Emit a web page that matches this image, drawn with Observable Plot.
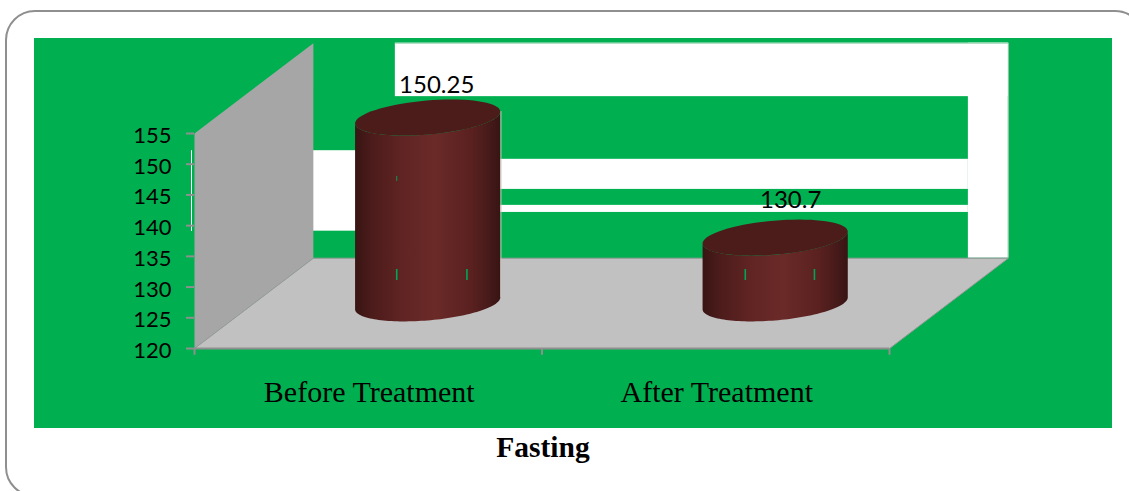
<!DOCTYPE html>
<html>
<head>
<meta charset="utf-8">
<script src="https://cdn.jsdelivr.net/npm/d3@7"></script>
<script src="https://cdn.jsdelivr.net/npm/@observablehq/plot@0.6"></script>
<style>
  html, body { margin: 0; padding: 0; overflow: hidden; background: #fff; }
  #page { position: relative; width: 1129px; height: 491px; overflow: hidden; }
  #card { position: absolute; left: 5px; top: 10px; width: 1140px; height: 487px; box-sizing: border-box;
          border: 2.5px solid #8f8f8f; border-radius: 30px; }
  #panel { position: absolute; left: 34px; top: 38px; width: 1078px; height: 390px; background: #00b050; }
  #chart { position: absolute; left: 0; top: 0; }
  #chart svg { background: transparent; }
</style>
</head>
<body>
<div id="page">
  <div id="card"></div>
  <div id="panel"></div>
  <div id="chart"></div>
</div>
<script>
// Chart content
const categories = ["Before Treatment", "After Treatment"];
const values = [150.25, 130.7];
const valueLabels = ["150.25", "130.7"];
const yTicks = [120, 125, 130, 135, 140, 145, 150, 155];
const axisTitle = "Fasting";

// Oblique projection: the depth axis runs from the front of the floor to the back wall.
const yMin = 120, yMax = 155;
const depthX = 0.342, depthY = 14.7;
const project = (u, v, d = 0) => ({x: u + d * depthX, y: v + d * depthY});
const wall = (u, v) => project(u, v, 1);

const polygon = (pts, fill, extra = {}) =>
  Plot.line(pts, {x: "x", y: "y", fill, stroke: "none", ...extra});

// Back-wall stripes, in wall coordinates
const wallStripes = [
  {u1: 0.236, u2: 2, v1: 146.3, v2: 155},
  {u1: 1.885, u2: 2, v1: 120, v2: 155},
  {u1: 0.5, u2: 1.885, v1: 131.2, v2: 136.1},
  {u1: 0.5, u2: 1.885, v1: 127.45, v2: 128.6},
  {u1: 0, u2: 0.14, v1: 124.4, v2: 137.5}
].map(({u1, u2, v1, v2}) => ({x1: wall(u1, v1).x, x2: wall(u2, v1).x, y1: wall(u1, v1).y, y2: wall(u1, v2).y}));

// Cylinder outlines: a tilted ellipse lying in the floor plane at half depth
const radiusX = 0.1974, radiusD = 0.2;
const tilt = Math.atan2(depthX * radiusD, radiusX);
const rimPoint = (cat, v, t) => {
  const c = project(cat + 0.5, v, 0.5);
  return {x: c.x + radiusX * Math.cos(t) + depthX * radiusD * Math.sin(t),
          y: c.y + depthY * radiusD * Math.sin(t)};
};
const steps = d3.range(0, 73).map((i) => i / 72);
const topFace = (cat, v) => steps.map((s) => rimPoint(cat, v, s * 2 * Math.PI));
const body = (cat, v) => [
  ...steps.map((s) => rimPoint(cat, yMin, tilt - s * Math.PI)),
  ...steps.map((s) => rimPoint(cat, v, tilt - Math.PI + s * Math.PI))
];

// Horizontal shading of the cylinder sides
const shading = () => {
  const defs = d3.create("svg:defs");
  const g = defs.append("linearGradient").attr("id", "cylinderSide").attr("x1", 0).attr("x2", 1).attr("y1", 0).attr("y2", 0);
  [[0, "#381513"], [0.12, "#4c1c1b"], [0.35, "#622524"], [0.55, "#6a2a28"], [0.8, "#5a2120"], [0.93, "#451a19"], [1, "#371413"]]
    .forEach(([o, c]) => g.append("stop").attr("offset", o).attr("stop-color", c));
  return defs.node();
};

const chart = Plot.plot({
  width: 1129,
  height: 491,
  marginLeft: 194,
  marginRight: 240,
  marginTop: 133,
  marginBottom: 143,
  style: {background: "transparent", overflow: "visible"},
  x: {domain: [0, 2], axis: null},
  y: {domain: [yMin, yMax], axis: null},
  marks: [
    shading,
    // back wall
    Plot.rect(wallStripes, {x1: "x1", x2: "x2", y1: "y1", y2: "y2", fill: "#fff"}),
    Plot.ruleY([wall(0, yMax).y], {x1: wall(0.236, 0).x, x2: wall(2, 0).x, stroke: "#8fd3ae", strokeWidth: 1}),
    Plot.ruleX([wall(2, 0).x], {y1: wall(0, yMin).y, y2: wall(0, yMax).y, stroke: "#a8c8b4", strokeWidth: 1}),
    // side wall
    polygon([project(0, yMin), project(0, yMax), wall(0, yMax), wall(0, yMin)], "#a6a6a6"),
    Plot.ruleX([-0.0086], {y1: 139.05, y2: 152.2, stroke: "#fff", strokeWidth: 1}),
    // floor
    polygon([project(0, yMin), project(2, yMin), wall(2, yMin), wall(0, yMin)], "#c1c1c1"),
    Plot.line([wall(0, yMin), project(0, yMin), project(2, yMin), wall(2, yMin), wall(0, yMin)],
      {x: "x", y: "y", stroke: "#989898", strokeWidth: 1}),
    Plot.ruleY([yMin], {stroke: "#8f8f8f", strokeWidth: 2}),
    // axes
    Plot.ruleY(yTicks, {x1: -0.023, x2: 0, stroke: "#8f8f8f", strokeWidth: 2}),
    Plot.axisY({ticks: yTicks, tickSize: 0, tickPadding: 23, dy: 2.5, fontSize: 22, fontFamily: "Lato", color: "#000", label: null}),
    Plot.ruleX([0, 1, 2], {y1: yMin, y2: yMin - 1.1, stroke: "#8f8f8f", strokeWidth: 2}),
    Plot.text(categories, {
      x: (d, i) => i + 0.5, y: yMin, text: (d) => d, dx: 1, dy: 44,
      fontFamily: "Liberation Serif", fontSize: 30, fill: "#000"
    }),
    Plot.text([axisTitle], {
      x: 1, y: yMin, text: (d) => d, dx: 1, dy: 99,
      fontFamily: "Liberation Serif", fontSize: 29.5, fontWeight: "bold", fill: "#000"
    }),
    // cylinders, one per value
    ...values.flatMap((v, i) => [
      polygon(body(i, v), "url(#cylinderSide)"),
      polygon(topFace(i, v), "#4c1c1a")
    ]),
    // pale edge on the taller cylinder
    Plot.ruleX([project(0.5, 0, 0.5).x + Math.hypot(radiusX, depthX * radiusD) + 0.002], {
      y1: rimPoint(0, yMin, tilt).y, y2: rimPoint(0, values[0], tilt).y, stroke: "#cfc0bc", strokeWidth: 1
    }),
    // gridline remnants showing through the cylinders
    Plot.ruleX([0.582, 0.784, 1.585, 1.784], {y1: 131.07, y2: 132.86, stroke: "#00a651", strokeWidth: 1.6}),
    Plot.ruleX([0.582], {y1: 147.2, y2: 148, stroke: "#0d9a52", strokeWidth: 1}),
    // value labels
    Plot.text([0], {
      x: (i) => project(i + 0.5, values[i], 0.5).x, y: (i) => project(i + 0.5, values[i], 0.5).y,
      text: (i) => valueLabels[i], dx: 9, dy: -32.5, fontFamily: "Lato", fontSize: 24, fill: "#000"
    }),
    Plot.text([1], {
      x: (i) => project(i + 0.5, values[i], 0.5).x, y: (i) => project(i + 0.5, values[i], 0.5).y,
      text: (i) => valueLabels[i], dx: 15.5, dy: -37.5, fontFamily: "Lato", fontSize: 24, fill: "#000"
    })
  ]
});
document.getElementById("chart").append(chart);
</script>
</body>
</html>
